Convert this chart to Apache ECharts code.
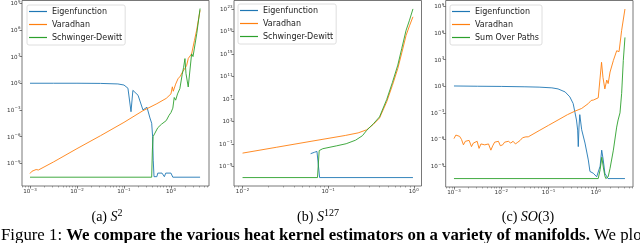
<!DOCTYPE html>
<html><head><meta charset="utf-8">
<script src="https://cdn.jsdelivr.net/npm/echarts@6/dist/echarts.min.js"></script>
<style>html,body{margin:0;padding:0;background:#fff}#c{width:640px;height:243px}</style>
</head><body><div id="c"></div>
<script>
var s2Names = ['Eigenfunction', 'Varadhan', 'Schwinger-Dewitt'];
var s127Names = ['Eigenfunction', 'Varadhan', 'Schwinger-Dewitt'];
var so3Names = ['Eigenfunction', 'Varadhan', 'Sum Over Paths'];

var s2XTicks = [-3, -2, -1, 0];
var s2YTicks = [-9, -6, -3, 0, 3, 6, 9];
var s127XTicks = [-2, -1, 0];
var s127YTicks = [-5, -1, 3, 7, 11, 15, 19, 23];
var so3XTicks = [-3, -2, -1, 0];
var so3YTicks = [-9, -6, -3, 0, 3, 6, 9];

var s2Eigen = [[-3.0,0],[-2.5,0],[-2.0,0],[-1.5,-0.02],[-1.13,-0.08],[-1.0,-0.2],[-0.915,-0.56],[-0.85,-3.2],[-0.81,-0.8],[-0.70,-1.35],[-0.596,-3.0],[-0.51,-2.7],[-0.447,-3.9],[-0.41,-4.5],[-0.39,-6.0],[-0.377,-8.65],[-0.36,-10.5],[-0.30,-10.5],[-0.28,-10.1],[-0.19,-10.1],[-0.14,-10.5],[-0.11,-10.1],[0.0,-10.1],[0.04,-10.56],[0.62,-10.56]];
var s2Varadhan = [[-3.0,-10.15],[-2.96,-9.9],[-2.92,-10.0],[-2.87,-9.7],[-2.82,-9.75],[-2.5,-8.85],[-2.0,-7.35],[-1.5,-5.9],[-1.0,-4.4],[-0.6,-3.1],[-0.3,-2.3],[-0.1,-1.7],[0.0,-1.2],[0.03,-0.4],[0.05,-0.9],[0.1,-0.1],[0.15,0.5],[0.2,0.8],[0.25,1.3],[0.30,1.7],[0.334,2.0],[0.37,2.8],[0.40,3.0],[0.44,3.3],[0.50,4.8],[0.547,5.96],[0.62,8.2]];
var s2Schwinger = [[-3.0,-10.56],[-0.41,-10.56],[-0.395,-7.5],[-0.38,-6.0],[-0.34,-5.6],[-0.28,-5.0],[-0.20,-4.6],[-0.10,-4.2],[-0.04,-3.6],[0.0,-3.3],[0.04,-2.8],[0.07,-1.6],[0.10,-1.9],[0.14,-1.2],[0.19,-0.6],[0.24,1.0],[0.27,1.8],[0.298,2.77],[0.32,1.1],[0.368,-0.42],[0.40,-0.5],[0.44,3.3],[0.47,3.0],[0.55,5.6],[0.62,8.4]];

var s127Eigen = [[-1.205,-2.75],[-1.16,-2.5],[-1.131,-2.35],[-1.10,-7.0],[-0.01,-7.0]];
var s127Varadhan = [[-2.0,-2.65],[-1.6,-1.6],[-1.2,-0.55],[-0.8,0.49],[-0.65,0.95],[-0.55,1.5],[-0.47,2.5],[-0.40,3.6],[-0.316,6.5],[-0.25,9.4],[-0.187,12.4],[-0.14,15.2],[-0.09,18.3],[-0.05,20.0],[-0.01,21.6]];
var s127Schwinger = [[-2.0,-7.0],[-1.125,-7.0],[-1.105,-2.2],[-1.064,-1.87],[-0.9,-1.35],[-0.79,-0.98],[-0.68,-0.35],[-0.6,0.45],[-0.55,1.4],[-0.47,2.6],[-0.40,3.8],[-0.316,6.9],[-0.25,9.9],[-0.187,13.0],[-0.14,16.0],[-0.09,19.2],[-0.05,21.0],[-0.01,23.0]];

var so3Eigen = [[-3.0,0.03],[-2.5,0.0],[-2.0,-0.02],[-1.5,-0.06],[-1.2,-0.1],[-0.93,-0.18],[-0.80,-0.3],[-0.65,-0.64],[-0.55,-1.2],[-0.48,-1.95],[-0.44,-3.0],[-0.41,-3.8],[-0.385,-4.94],[-0.372,-6.8],[-0.357,-4.6],[-0.34,-3.2],[-0.30,-4.9],[-0.23,-6.4],[-0.16,-8.3],[-0.125,-9.6],[-0.055,-9.8],[0.017,-10.2],[0.05,-10.4],[0.09,-9.0],[0.123,-7.2],[0.156,-8.3],[0.19,-9.8],[0.256,-10.4],[0.615,-10.4]];
var so3Varadhan = [[-3.00,-5.9],[-2.96,-5.5],[-2.92,-5.7],[-2.88,-5.65],[-2.84,-6.0],[-2.80,-6.6],[-2.76,-6.2],[-2.72,-6.0],[-2.68,-6.1],[-2.63,-6.8],[-2.59,-6.4],[-2.55,-6.3],[-2.51,-6.2],[-2.47,-7.0],[-2.43,-6.5],[-2.39,-6.3],[-2.35,-6.6],[-2.31,-6.4],[-2.27,-6.5],[-2.22,-7.2],[-2.18,-6.7],[-2.14,-6.3],[-2.10,-6.4],[-2.06,-6.2],[-2.02,-6.7],[-1.97,-6.6],[-1.93,-6.3],[-1.89,-6.5],[-1.85,-6.2],[-1.80,-6.4],[-1.75,-6.2],[-1.70,-6.5],[-1.65,-6.3],[-1.60,-6.1],[-1.55,-5.8],[-1.48,-5.7],[-1.43,-5.7],[-1.2,-5.0],[-1.0,-4.4],[-0.8,-3.8],[-0.6,-3.2],[-0.44,-2.8],[-0.30,-2.5],[-0.16,-1.95],[-0.10,-1.6],[-0.08,-1.4],[-0.05,-1.55],[0.05,-1.3],[0.09,-1.2],[0.12,2.7],[0.15,1.0],[0.19,-0.3],[0.23,0.7],[0.26,0.3],[0.30,1.6],[0.37,2.9],[0.44,4.0],[0.47,4.2],[0.49,3.9],[0.545,6.3],[0.615,8.7]];
var so3Paths = [[-3.0,-10.4],[0.05,-10.4],[0.09,-9.4],[0.125,-8.0],[0.16,-9.2],[0.19,-10.1],[0.21,-10.4],[0.26,-10.2],[0.30,-9.25],[0.37,-7.2],[0.44,-4.6],[0.47,-3.8],[0.51,-3.0],[0.545,-0.8],[0.58,2.9],[0.615,5.5]];

var C = ['#1f77b4', '#ff7f0e', '#2ca02c'];
var panels = [
  {grid: {left: 22, top: 0.5, width: 187, height: 185.5}, x: [-3.17, 0.81], y: [-11.55, 9.3], xt: s2XTicks, yt: s2YTicks, names: s2Names, data: [s2Eigen, s2Varadhan, s2Schwinger], legend: {left: 27, top: 5}},
  {grid: {left: 234, top: 0.5, width: 187.5, height: 185.5}, x: [-2.1, 0.09], y: [-8.5, 24.5], xt: s127XTicks, yt: s127YTicks, names: s127Names, data: [s127Eigen, s127Varadhan, s127Schwinger], legend: {left: 238, top: 4}},
  {grid: {left: 445.7, top: 0.5, width: 187.3, height: 186.5}, x: [-3.175, 0.785], y: [-11.35, 9.66], xt: so3XTicks, yt: so3YTicks, names: so3Names, data: [so3Eigen, so3Varadhan, so3Paths], legend: {left: 450, top: 5}}
];

function pow10Label(v) {
  var n = Math.round(v);
  var s = n < 0 ? '\u2212' + (-n) : String(n);
  return '{b|10}{s|' + s + '}';
}
var labelRich = {
  b: {fontSize: 5.6, fontFamily: 'DejaVu Sans', color: '#333', lineHeight: 7, verticalAlign: 'bottom'},
  s: {fontSize: 4, fontFamily: 'DejaVu Sans', color: '#333', lineHeight: 4.5, verticalAlign: 'top', padding: [0, 0, 0, 0.4]}
};
function minorTicks(lo, hi) {
  var out = [];
  for (var n = Math.floor(lo) - 1; n <= Math.ceil(hi); n++) {
    for (var k = 2; k <= 9; k++) {
      var v = n + Math.log10(k);
      if (v > lo && v < hi) out.push(v);
    }
  }
  return out;
}

var grids = [], xAxes = [], yAxes = [], series = [], legends = [];
panels.forEach(function (p, g) {
  grids.push(Object.assign({show: true, borderColor: '#555', borderWidth: 0.8, backgroundColor: 'transparent', containLabel: false, outerBoundsMode: 'none'}, p.grid));
  xAxes.push({
    type: 'value', gridIndex: g, position: 'bottom', min: p.x[0], max: p.x[1],
    axisLine: {show: false, onZero: false}, splitLine: {show: false},
    axisTick: {show: true, length: 2.5, customValues: p.xt, lineStyle: {color: '#444', width: 0.7}},
    axisLabel: {show: true, margin: 2, customValues: p.xt, formatter: pow10Label, rich: labelRich}
  });
  xAxes.push({
    type: 'value', gridIndex: g, position: 'bottom', min: p.x[0], max: p.x[1],
    axisLine: {show: false, onZero: false}, splitLine: {show: false},
    axisTick: {show: true, length: 1.5, customValues: minorTicks(p.x[0], p.x[1]), lineStyle: {color: '#555', width: 0.5}},
    axisLabel: {show: false}
  });
  yAxes.push({
    type: 'value', gridIndex: g, position: 'left', min: p.y[0], max: p.y[1],
    axisLine: {show: false, onZero: false}, splitLine: {show: false},
    axisTick: {show: true, length: 2.5, customValues: p.yt, lineStyle: {color: '#444', width: 0.7}},
    axisLabel: {show: true, margin: 1.5, customValues: p.yt, formatter: pow10Label, rich: labelRich}
  });
  p.data.forEach(function (d, i) {
    series.push({
      type: 'line', name: p.names[i], xAxisIndex: 2 * g, yAxisIndex: g, data: d,
      showSymbol: false, symbol: 'none', clip: true,
      lineStyle: {color: C[i], width: 0.9}, itemStyle: {color: C[i]}
    });
  });
  legends.push({
    orient: 'vertical', left: p.legend.left, top: p.legend.top, data: p.names,
    icon: 'rect', itemWidth: 18, itemHeight: 1.2, itemGap: 3, padding: [1.5, 3, 2.5, 2],
    textStyle: {fontSize: 8, fontFamily: 'DejaVu Sans', color: '#222', lineHeight: 10},
    borderColor: '#d5d5d5', borderWidth: 0.8, borderRadius: 2,
    backgroundColor: 'rgba(255,255,255,0.8)', selectedMode: false
  });
});

var capRich = {
  n: {fontFamily: 'Liberation Serif', fontSize: 14, color: '#000', lineHeight: 16, verticalAlign: 'bottom'},
  i: {fontFamily: 'Liberation Serif', fontSize: 14, fontStyle: 'italic', color: '#000', lineHeight: 16, verticalAlign: 'bottom'},
  p: {fontFamily: 'Liberation Serif', fontSize: 10, color: '#000', lineHeight: 10, verticalAlign: 'top'}
};
var figRich = {
  n: {fontFamily: 'Liberation Serif', fontSize: 16.8, color: '#000'},
  b: {fontFamily: 'Liberation Serif', fontSize: 16.8, fontWeight: 'bold', color: '#000'}
};

var chart = echarts.init(document.getElementById('c'), null, {renderer: 'canvas'});
chart.setOption({
  animation: false,
  backgroundColor: '#fff',
  grid: grids, xAxis: xAxes, yAxis: yAxes, series: series, legend: legends,
  graphic: [
    {type: 'text', x: 107, y: 216, style: {text: '{n|(a) }{i|S}{p|2}', rich: capRich, align: 'center', verticalAlign: 'middle'}},
    {type: 'text', x: 318, y: 216, style: {text: '{n|(b) }{i|S}{p|127}', rich: capRich, align: 'center', verticalAlign: 'middle'}},
    {type: 'text', x: 528, y: 216, style: {text: '{n|(c) }{i|SO}{n|(3)}', rich: capRich, align: 'center', verticalAlign: 'middle'}},
    {type: 'text', x: 1, y: 236, style: {text: '{n|Figure 1: }{b|We compare the various heat kernel estimators on a variety of manifolds.}{n| We plot}', rich: figRich, align: 'left', verticalAlign: 'middle'}}
  ]
});
</script>
</body></html>
